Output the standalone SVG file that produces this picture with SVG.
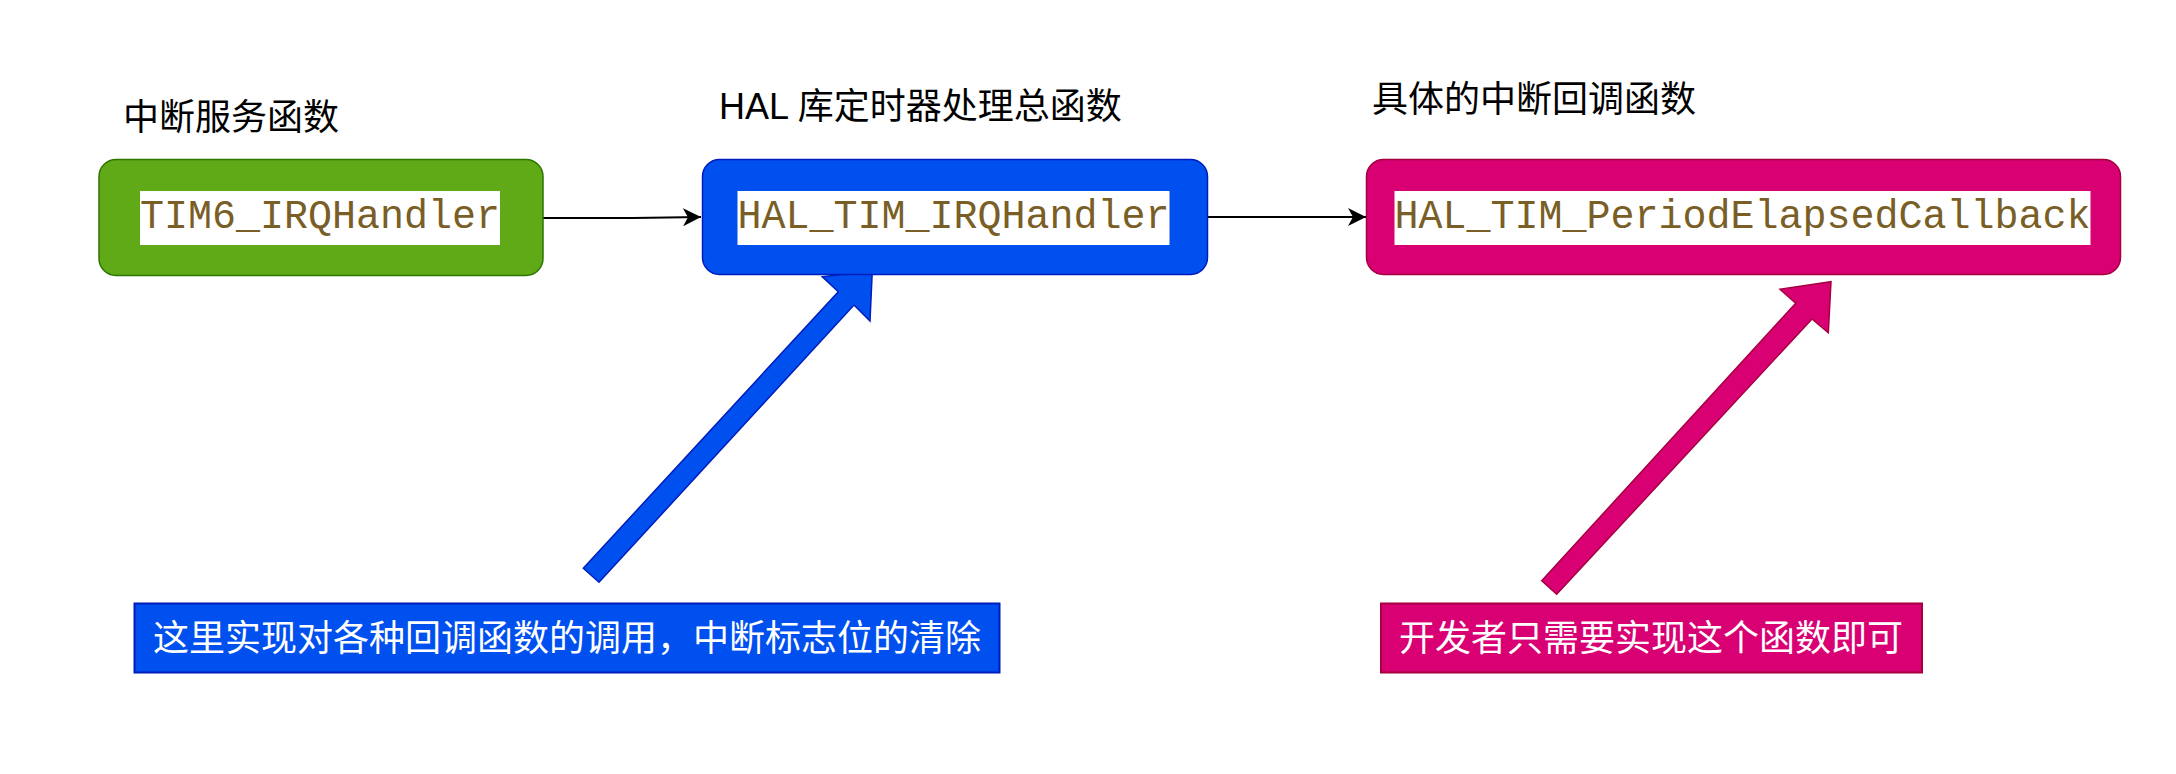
<svg xmlns="http://www.w3.org/2000/svg" width="2176" height="774" viewBox="0 0 2176 774">
<style>
.title{font-family:"Liberation Sans","Noto Sans CJK SC",sans-serif;font-size:36px;fill:#000}
.code{font-family:"Liberation Mono","Courier New",monospace;font-size:40px;fill:#795E26;text-anchor:middle}
.lbl{font-family:"Noto Sans CJK SC",sans-serif;font-size:36px;fill:#fff;text-anchor:middle}
.conn{fill:none;stroke:#000;stroke-width:2}
</style>
<defs>
<marker id="ah" markerUnits="userSpaceOnUse" viewBox="0 0 18 18" refX="18" refY="9" markerWidth="18" markerHeight="18" orient="auto">
<path d="M0,0 L18,9 L0,18 L5,9 Z" fill="#000"/>
</marker>
</defs>
<rect width="2176" height="774" fill="#fff"/>
<g id="title1"><text class="title" x="123" y="130">中断服务函数</text></g>
<g id="title2"><text class="title" x="719" y="119">HAL 库定时器处理总函数</text></g>
<g id="title3"><text class="title" x="1372" y="112">具体的中断回调函数</text></g>
<g id="connectors">
<path class="conn" d="M543,218 L633,218 L701,217" marker-end="url(#ah)"/>
<path class="conn" d="M1207,217 L1366,217" marker-end="url(#ah)"/>
<polygon points="583.3,568.3 838.3,291.7 822.3,276.7 872.3,270.7 870,321 854,305 599,582.3" fill="#0050EF" stroke="#001DBC" stroke-width="1.5"/>
<polygon points="1541.7,580.7 1795.7,303.3 1780,289.3 1831,281.7 1828.3,332.7 1812,319 1556.7,594.3" fill="#D80073" stroke="#A50040" stroke-width="1.5"/>
</g>
<g id="node-tim6">
<rect x="99" y="159.5" width="444" height="116" rx="17" fill="#60A917" stroke="#2D7600" stroke-width="1.5"/>
<rect x="140" y="191" width="360" height="54" fill="#fff"/>
<text class="code" x="320" y="228">TIM6_IRQHandler</text>
</g>
<g id="node-hal">
<rect x="702.5" y="159.5" width="505" height="115" rx="17" fill="#0050EF" stroke="#001DBC" stroke-width="1.5"/>
<rect x="737.5" y="191" width="432" height="54" fill="#fff"/>
<text class="code" x="953.5" y="228">HAL_TIM_IRQHandler</text>
</g>
<g id="node-callback">
<rect x="1366.5" y="159.5" width="754" height="115" rx="17" fill="#D80073" stroke="#A50040" stroke-width="1.5"/>
<rect x="1394.5" y="191" width="696" height="54" fill="#fff"/>
<text class="code" x="1742.5" y="228">HAL_TIM_PeriodElapsedCallback</text>
</g>
<g id="label-hal">
<rect x="134.5" y="603.5" width="865" height="69" fill="#0050EF" stroke="#001DBC" stroke-width="2"/>
<text class="lbl" x="567" y="651">这里实现对各种回调函数的调用，中断标志位的清除</text>
</g>
<g id="label-callback">
<rect x="1381" y="603.5" width="541" height="69" fill="#D80073" stroke="#A50040" stroke-width="2"/>
<text class="lbl" x="1651" y="651">开发者只需要实现这个函数即可</text>
</g>
</svg>
